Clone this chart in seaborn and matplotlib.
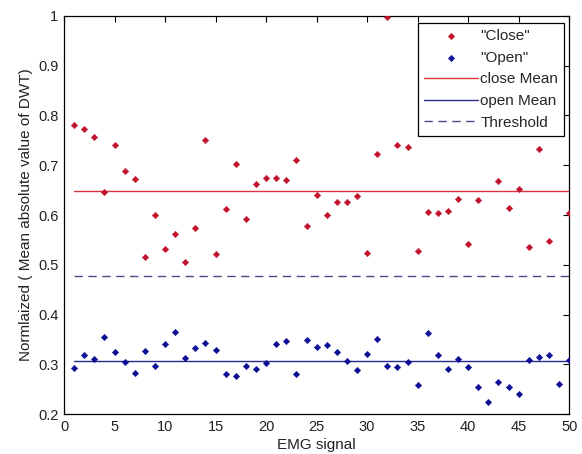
import numpy as np
import pandas as pd
import matplotlib
matplotlib.use("Agg")
import matplotlib.pyplot as plt
import seaborn as sns

# ---- data ----
emg_index = list(range(1, 51))
close_vals = [0.780, 0.773, 0.757, 0.647, 0.741, 0.689, 0.673, 0.515, 0.601, 0.531,
              0.561, 0.505, 0.573, 0.750, 0.521, 0.612, 0.703, 0.591, 0.663, 0.675,
              0.675, 0.670, 0.711, 0.577, 0.641, 0.601, 0.626, 0.626, 0.638, 0.524,
              0.722, 0.998, 0.741, 0.736, 0.528, 0.606, 0.604, 0.608, 0.633, 0.542,
              0.631, np.nan, 0.669, 0.615, 0.652, 0.535, 0.733, 0.547, np.nan, 0.605]
open_vals = [0.293, 0.319, 0.311, 0.355, 0.325, 0.305, 0.283, 0.328, 0.297, 0.342,
             0.365, 0.314, 0.333, 0.344, 0.330, 0.281, 0.277, 0.297, 0.291, 0.302,
             0.342, 0.347, 0.281, 0.349, 0.335, 0.339, 0.325, 0.307, 0.288, 0.321,
             0.351, 0.297, 0.295, 0.305, 0.258, 0.363, 0.319, 0.291, 0.312, 0.295,
             0.255, 0.225, 0.265, 0.255, 0.241, 0.309, 0.316, 0.319, 0.260, 0.309]
close_mean = 0.649
open_mean = 0.307
threshold = 0.477
line_x = [1, 50]
x_ticks = [0, 5, 10, 15, 20, 25, 30, 35, 40, 45, 50]
y_ticks = [0.2, 0.3, 0.4, 0.5, 0.6, 0.7, 0.8, 0.9, 1.0]
y_tick_labels = ["0.2", "0.3", "0.4", "0.5", "0.6", "0.7", "0.8", "0.9", "1"]

sns.set_theme(style="white")
plt.rcParams['font.family'] = ['Liberation Sans', 'DejaVu Sans']

fig = plt.figure(figsize=(5.82, 4.54), dpi=100)
ax = fig.add_axes([0.110, 0.0874, 0.868, 0.878])

df_close = pd.DataFrame({"x": emg_index, "y": close_vals})
df_open = pd.DataFrame({"x": emg_index, "y": open_vals})

red_pt = "#c0142c"
blue_pt = "#0c0c96"

sns.scatterplot(data=df_close, x="x", y="y", marker="D", s=11, color=red_pt,
                edgecolor=red_pt, linewidth=0.3, ax=ax, label='"Close"', zorder=3)
sns.scatterplot(data=df_open, x="x", y="y", marker="D", s=11, color=blue_pt,
                edgecolor=blue_pt, linewidth=0.3, ax=ax, label='"Open"', zorder=3)

sns.lineplot(x=line_x, y=[close_mean, close_mean], color="#d8343c", linewidth=1.0,
             ax=ax, label="close Mean")
sns.lineplot(x=line_x, y=[open_mean, open_mean], color="#2a2a8c", linewidth=1.0,
             ax=ax, label="open Mean")
sns.lineplot(x=line_x, y=[threshold, threshold], color="#4a4a86", linewidth=1.0,
             ax=ax, label="Threshold", dashes=False)
ax.lines[-1].set_linestyle((0, (6, 4)))

ax.set_xlim(0, 50)
ax.set_ylim(0.2, 1.0)
ax.set_xticks(x_ticks)
ax.set_xticklabels([str(t) for t in x_ticks])
ax.set_yticks(y_ticks)
ax.set_yticklabels(y_tick_labels)

ax.tick_params(direction="in", length=4, width=0.8, top=True, right=True,
               labelsize=10.5, colors="#222222", pad=4)
ax.tick_params(axis="both", which="both", color="black")
for s in ax.spines.values():
    s.set_visible(True)
    s.set_color("black")
    s.set_linewidth(0.9)

ax.set_xlabel("EMG signal", fontsize=11, color="#222222", labelpad=3)
ax.set_ylabel("Normlaized ( Mean absolute value of DWT)", fontsize=11,
              color="#222222", labelpad=4)

leg = ax.legend(loc="upper right", bbox_to_anchor=(0.99, 0.982), fontsize=11,
                frameon=True, fancybox=False, framealpha=1, edgecolor="black",
                borderpad=0.4, labelspacing=0.5, handlelength=3.5,
                handletextpad=0.15, borderaxespad=0.0)
leg.get_frame().set_linewidth(0.9)
leg.set_zorder(10)

fig.savefig("out.png", dpi=100, facecolor="white")
